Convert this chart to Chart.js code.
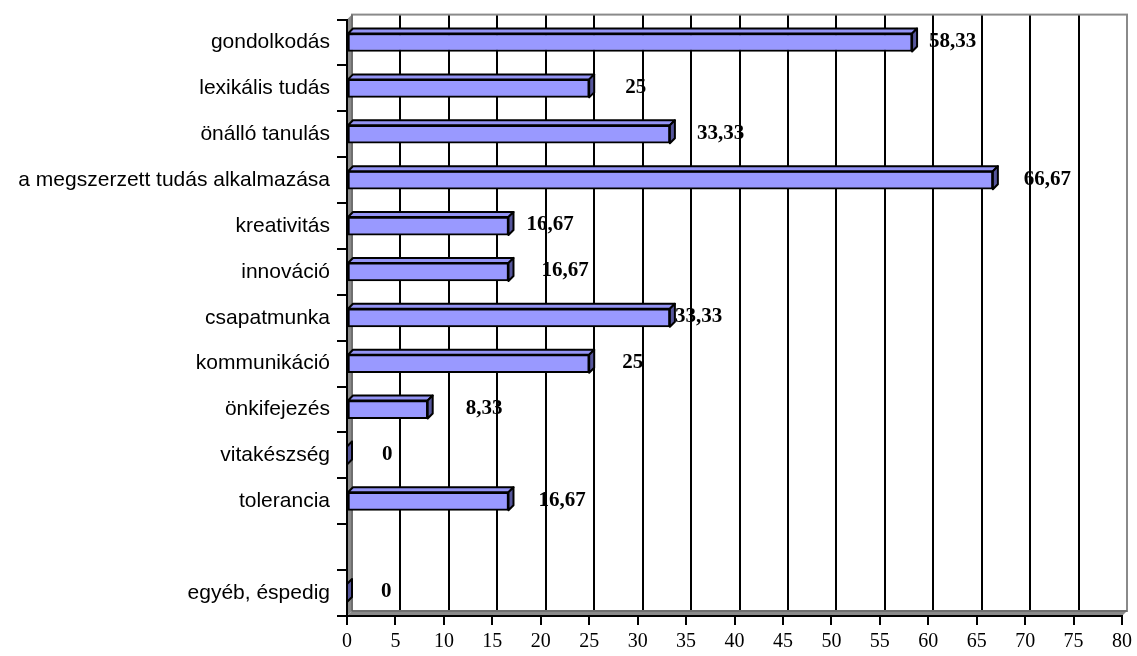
<!DOCTYPE html>
<html lang="hu">
  <head>
    <title>Kompetenciák</title>
    <meta charset="UTF-8" />
    <style>
      html, body { margin: 0; padding: 0; background: #fff; }
      .wrap { width: 1137px; height: 656px; }
    </style>
  </head>
  <body>
    <div class="wrap">
      <canvas id="myChart" width="1137" height="656"></canvas>
    </div>
    <script src="https://cdn.jsdelivr.net/npm/chart.js@4"></script>
    <script>
      // adatok
      var categories = [
        "gondolkodás",
        "lexikális tudás",
        "önálló tanulás",
        "a megszerzett tudás alkalmazása",
        "kreativitás",
        "innováció",
        "csapatmunka",
        "kommunikáció",
        "önkifejezés",
        "vitakészség",
        "tolerancia",
        "",
        "egyéb, éspedig"
      ];
      var values = [58.33, 25, 33.33, 66.67, 16.67, 16.67, 33.33, 25, 8.33, 0, 16.67, null, 0];
      var xTicks = { min: 0, max: 80, step: 5 };

      // a címkék kézi eltolása (px), ahogy az eredeti ábrán
      var labelNudge = [17, 36, 27, 31, 18, 33, 5, 33, 38, 35, 30, 0, 34];

      var depth = 5;

      var wall3d = {
        id: "wall3d",
        beforeDraw: function (chart) {
          var a = chart.chartArea;
          var c = chart.ctx;
          var xs = chart.scales.x;
          c.save();
          // hátsó fal
          c.fillStyle = "#fff";
          c.fillRect(a.left + depth, a.top - depth, a.right - a.left, a.bottom - a.top);
          // függőleges rácsvonalak a hátsó falon
          c.strokeStyle = "#000";
          c.lineWidth = 2;
          for (var v = xTicks.min + xTicks.step; v < xTicks.max; v += xTicks.step) {
            var px = Math.round(xs.getPixelForValue(v)) + depth;
            c.beginPath();
            c.moveTo(px, a.top - depth);
            c.lineTo(px, a.bottom - depth);
            c.stroke();
          }
          // keret
          c.strokeStyle = "#8a8a8a";
          c.lineWidth = 2;
          c.strokeRect(a.left + depth, a.top - depth, a.right - a.left, a.bottom - a.top);
          // bal oldalfal
          c.fillStyle = "#8a8a8a";
          c.beginPath();
          c.moveTo(a.left, a.top);
          c.lineTo(a.left + depth, a.top - depth);
          c.lineTo(a.left + depth, a.bottom - depth);
          c.lineTo(a.left, a.bottom);
          c.closePath();
          c.fill();
          // padló
          c.beginPath();
          c.moveTo(a.left, a.bottom);
          c.lineTo(a.left + depth, a.bottom - depth);
          c.lineTo(a.right + depth, a.bottom - depth);
          c.lineTo(a.right, a.bottom);
          c.closePath();
          c.fill();
          c.strokeStyle = "#555";
          c.lineWidth = 1;
          c.beginPath();
          c.moveTo(a.left + depth, a.top - depth);
          c.lineTo(a.left + depth, a.bottom - depth);
          c.lineTo(a.right + depth, a.bottom - depth);
          c.stroke();
          c.restore();
        },
        afterDatasetsDraw: function (chart) {
          var c = chart.ctx;
          var xs = chart.scales.x;
          var meta = chart.getDatasetMeta(0);
          c.save();
          c.lineJoin = "round";
          meta.data.forEach(function (bar, i) {
            if (values[i] === null) return;
            var p = bar.getProps(["x", "y", "base", "height"], true);
            var top = p.y - p.height / 2;
            var bottom = p.y + p.height / 2;
            c.lineWidth = 2;
            c.strokeStyle = "#000";
            // teteje
            if (p.x > p.base) {
              c.fillStyle = "#9494f5";
              c.beginPath();
              c.moveTo(p.base, top);
              c.lineTo(p.base + depth, top - depth);
              c.lineTo(p.x + depth, top - depth);
              c.lineTo(p.x, top);
              c.closePath();
              c.fill();
              c.stroke();
            }
            // vége
            c.fillStyle = "#56569c";
            c.beginPath();
            c.moveTo(p.x, top);
            c.lineTo(p.x + depth, top - depth);
            c.lineTo(p.x + depth, bottom - depth);
            c.lineTo(p.x, bottom);
            c.closePath();
            c.fill();
            c.stroke();
          });
          // értékcímkék
          c.fillStyle = "#000";
          c.font = "bold 21px 'Liberation Serif', 'Times New Roman', serif";
          c.textAlign = "left";
          c.textBaseline = "middle";
          meta.data.forEach(function (bar, i) {
            if (values[i] === null) return;
            var x = xs.getPixelForValue(values[i]) + labelNudge[i];
            c.fillText(String(values[i]).replace(".", ","), x, bar.y - 1);
          });
          c.restore();
        }
      };

      var ctx = document.getElementById("myChart");
      var myChart = new Chart(ctx, {
        type: "bar",
        data: {
          labels: categories,
          datasets: [
            {
              data: values,
              backgroundColor: "#9999ff",
              borderColor: "#000",
              borderWidth: 2,
              borderSkipped: false,
              barThickness: 18
            }
          ]
        },
        options: {
          indexAxis: "y",
          responsive: false,
          animation: false,
          layout: { padding: { top: 17, right: 11, left: 0, bottom: 0 } },
          plugins: {
            legend: { display: false },
            tooltip: { enabled: false }
          },
          scales: {
            x: {
              min: xTicks.min,
              max: xTicks.max,
              ticks: {
                stepSize: xTicks.step,
                color: "#000",
                padding: 5,
                maxRotation: 0,
                font: { family: "'Liberation Serif', 'Times New Roman', serif", size: 20 }
              },
              grid: {
                drawOnChartArea: false,
                color: "#000",
                lineWidth: 2,
                tickLength: 9
              },
              border: { display: true, color: "#000", width: 2 },
              afterFit: function (s) { s.height = 40; }
            },
            y: {
              offset: true,
              ticks: {
                color: "#000",
                padding: 7,
                autoSkip: false,
                font: { family: "'Liberation Sans', Arial, sans-serif", size: 21 }
              },
              grid: {
                drawOnChartArea: false,
                color: "#000",
                lineWidth: 2,
                tickLength: 10
              },
              border: { display: true, color: "#000", width: 2 },
              afterFit: function (s) { s.width = 347; }
            }
          }
        },
        plugins: [wall3d]
      });
    </script>
  </body>
</html>
